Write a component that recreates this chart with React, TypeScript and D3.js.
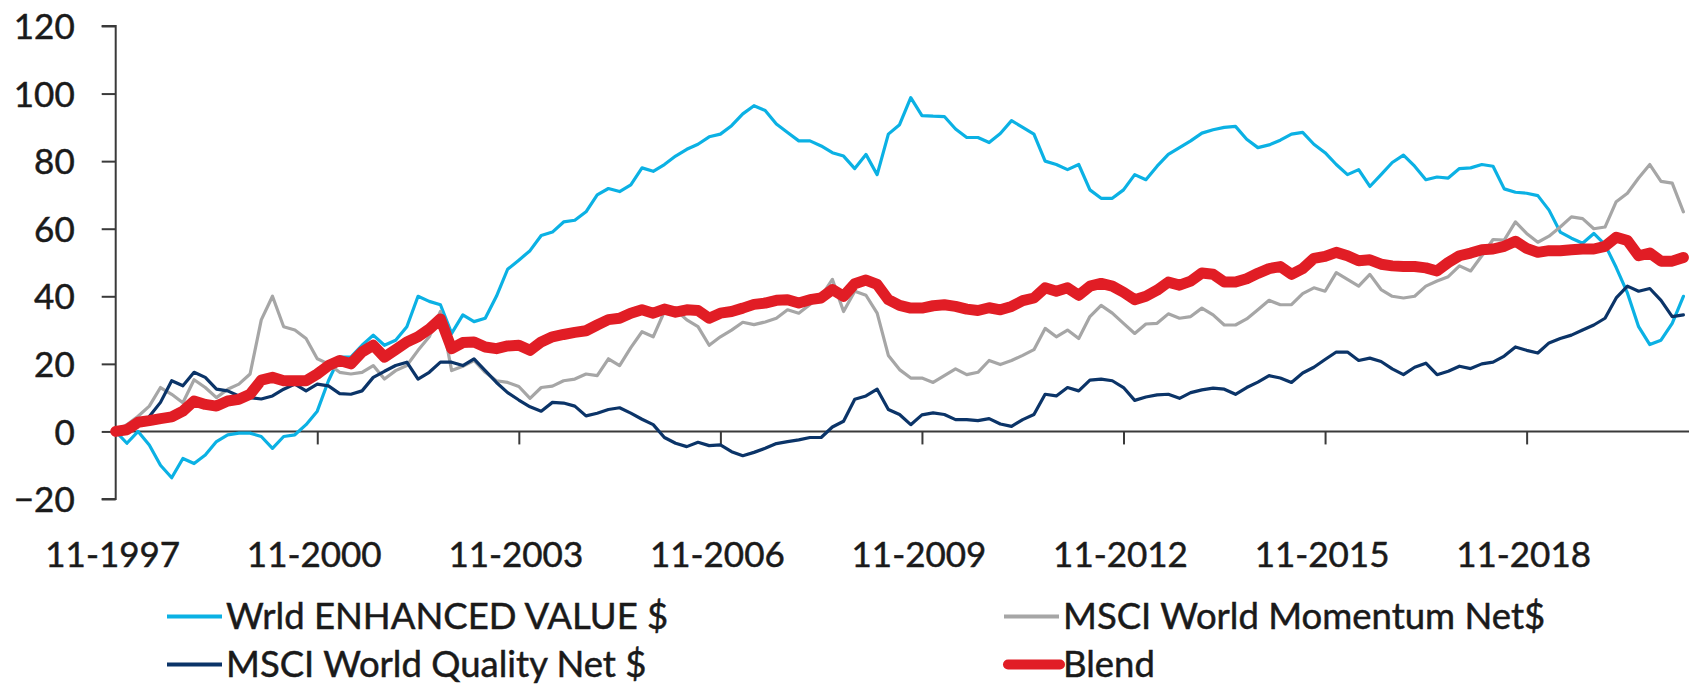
import React, { useRef, useEffect } from "react";
import * as d3 from "d3";

// readings every 2 months, starting 11-1997
const SAMPLE_STEP = 2;
const LAST_MONTH = 281;

const enhancedValue = [
  0, -3.5, 0, -4, -10, -13.7, -8, -9.5, -7, -3, -1, -0.5, -0.5, -1.5, -5, -1.5, -1, 2, 6, 15, 22, 22, 25.5, 28.5, 25.5, 27, 31, 40,
  38.5, 37.5, 29, 34.5, 32.5, 33.5, 40, 48, 50.7, 53.5, 58, 59, 62, 62.5, 65, 70, 71.9, 71, 73, 78, 77, 79, 81.5, 83.5, 85, 87.2, 88, 90.5,
  94, 96.4, 95, 91, 88.5, 86, 86, 84.5, 82.5, 81.5, 77.8, 82, 76, 88, 90.8, 98.8, 93.5, 93.3, 93.2, 89.5, 87, 87, 85.5, 88.2, 92, 90, 88, 80,
  79, 77.5, 79, 71.5, 69, 69, 71.5, 76, 74.5, 78.5, 82, 84, 86, 88.3, 89.3, 90, 90.3, 86.5, 84, 84.8, 86.2, 88, 88.5, 85, 82.5, 79, 76, 77.5,
  72.5, 76, 79.6, 81.8, 78.5, 74.5, 75.3, 75, 77.8, 78, 79, 78.5, 71.8, 70.8, 70.5, 69.8, 65.5, 59, 57.2, 55.7, 58.6, 55.3, 48.5, 41, 31, 25.7, 27, 32, 40,
];

const momentum = [
  0, 2, 4.5, 7.5, 13, 11, 8.5, 15.3, 13, 10, 12.5, 14, 17, 33, 40, 31, 30, 27.5, 21.5, 20, 17.5, 17, 17.5, 19.5, 15.5, 18, 19.5, 24,
  28, 35.5, 18, 19.3, 21, 17.5, 15, 14.5, 13.3, 9.8, 13, 13.4, 15, 15.5, 17, 16.5, 21.5, 19.5, 24.8, 29.5, 28, 35.5, 36, 33, 31, 25.5, 28, 30,
  32.3, 31.6, 32.4, 33.5, 36, 35, 37.6, 40, 45, 35.5, 41.5, 40.3, 35, 22.5, 18.3, 15.8, 15.8, 14.5, 16.5, 18.5, 16.8, 17.5, 21, 19.8, 21, 22.5, 24.2, 30.5,
  28, 30, 27.5, 34, 37.3, 35, 32, 29, 31.8, 32, 34.8, 33.5, 34, 36.5, 34.5, 31.5, 31.5, 33.3, 36, 38.8, 37.5, 37.5, 40.8, 42.5, 41.5, 47, 45, 43,
  46.5, 42, 40, 39.5, 40, 43, 44.5, 45.8, 49, 47.5, 52, 56.8, 56.6, 62, 58.6, 56, 57.8, 60.5, 63.5, 63, 60, 60.5, 68, 70.5, 75, 79, 74, 73.5, 65,
];

const quality = [
  0, 1, 2, 4.4, 8.6, 15, 13.5, 17.5, 16, 12.5, 12, 10.5, 10, 9.6, 10.5, 12.5, 14, 12, 14, 13.5, 11.2, 11, 12, 16, 17.8, 19.5, 20.5, 15.5,
  17.5, 20.5, 20.5, 19.5, 21.5, 18, 14.5, 11.5, 9.3, 7.3, 6, 8.6, 8.4, 7.5, 4.6, 5.4, 6.5, 7, 5.4, 3.6, 2, -1.8, -3.5, -4.5, -3.2, -4.2, -4, -6,
  -7.2, -6.2, -5, -3.6, -3, -2.5, -1.8, -1.8, 1.3, 3, 9.5, 10.5, 12.5, 6.5, 5, 2, 4.9, 5.5, 5, 3.5, 3.5, 3.2, 3.8, 2.2, 1.5, 3.5, 5, 11,
  10.5, 13, 12, 15.2, 15.5, 15, 13, 9.2, 10.2, 10.8, 11, 9.8, 11.5, 12.3, 12.8, 12.5, 11, 13, 14.6, 16.5, 15.8, 14.5, 17.3, 19, 21.3, 23.5, 23.5, 21,
  21.7, 20.7, 18.5, 16.8, 19, 20.2, 16.8, 17.8, 19.3, 18.6, 20, 20.5, 22.3, 25, 24, 23.2, 26.2, 27.5, 28.5, 30, 31.5, 33.5, 39.5, 43, 41.5, 42.3, 38.8, 34, 34.5,
];

const blend = [
  0, 0.5, 2.7, 3.2, 3.8, 4.3, 6, 9, 8, 7.5, 9, 9.5, 11, 15.2, 16, 15, 15, 15, 17, 19.5, 21, 20, 23.5, 25.5, 22, 24.2, 26.5, 28,
  30.3, 33.3, 24.5, 26.3, 26.5, 25, 24.5, 25.3, 25.5, 24, 26.5, 28, 28.7, 29.3, 29.8, 31.5, 33.1, 33.5, 35, 36, 35, 36.2, 35.3, 36, 35.8, 33.5, 35, 35.5,
  36.5, 37.6, 38, 38.8, 39, 38, 39, 39.5, 42, 40, 43.7, 44.8, 43.5, 39, 37.3, 36.5, 36.5, 37.2, 37.5, 37, 36.2, 35.8, 36.6, 36, 37, 38.7, 39.5, 42.5,
  41.5, 42.5, 40.3, 43, 43.8, 43, 41.2, 39, 40, 41.8, 44.2, 43.3, 44.5, 46.9, 46.5, 44.2, 44.2, 45.2, 46.8, 48.2, 48.8, 46.5, 48.2, 51.2, 51.8, 53, 52, 50.5,
  50.8, 49.5, 49, 48.8, 48.8, 48.4, 47.5, 50, 52, 52.8, 53.8, 54, 54.8, 56.3, 54.2, 53, 53.5, 53.5, 53.8, 54, 54, 54.8, 57.5, 56.5, 52, 52.8, 50.4, 50.4, 51.5,
];

const yTicks = [-20, 0, 20, 40, 60, 80, 100, 120];
const xTickMonths = [0, 36, 72, 108, 144, 180, 216, 252];
const xTickLabels = ["11-1997", "11-2000", "11-2003", "11-2006", "11-2009", "11-2012", "11-2015", "11-2018"];

const series = [
  { name: "Wrld ENHANCED VALUE $", values: enhancedValue, color: "#0BB1E4", width: 3.2 },
  { name: "MSCI World Momentum Net$", values: momentum, color: "#A6A6A6", width: 3.2 },
  { name: "MSCI World Quality Net $", values: quality, color: "#0B3468", width: 3.2 },
  { name: "Blend", values: blend, color: "#E11D25", width: 11 },
];

const FONT = "Lato, 'Open Sans', sans-serif";
const TEXT_COLOR = "#1a1a1a";

const App = () => {
  const chartRef = useRef<HTMLDivElement>(null);

  useEffect(() => {
    d3.select(chartRef.current).selectAll("*").remove();

    const width = 1690,
      height = 686;

    const svg = d3
      .select(chartRef.current)
      .append("svg")
      .attr("width", width)
      .attr("height", height)
      .style("display", "block");

    const x = d3.scaleLinear().domain([0, LAST_MONTH]).range([115.7, 1689]);
    const y = d3.scaleLinear().domain([-20, 120]).range([499, 26]);

    // slightly heavier glyphs, closer to the original's Calibri
    const styleText = (sel: any, size: number) =>
      sel
        .attr("font-family", FONT)
        .attr("font-size", size)
        .attr("fill", TEXT_COLOR)
        .attr("stroke", TEXT_COLOR)
        .attr("stroke-width", 0.5);

    // y axis
    const yAxis = svg.append("g").attr("transform", `translate(${x(0)},0)`);
    yAxis
      .call(d3.axisLeft(y).tickValues(yTicks).tickSize(14).tickPadding(27).tickFormat(d3.format("d")))
      .call((g) => g.select(".domain").attr("stroke", "#3a3a3a").attr("stroke-width", 2).attr("d", `M-14,${y(-20)}H0V${y(120)}H-14`))
      .call((g) => g.selectAll(".tick line").attr("stroke", "#3a3a3a").attr("stroke-width", 2));
    styleText(yAxis.selectAll(".tick text"), 35).attr("dy", "0.36em");

    // x axis sits on the zero line
    const xAxis = svg.append("g").attr("transform", `translate(0,${y(0)})`);
    xAxis
      .call(d3.axisBottom(x).tickValues(xTickMonths.slice(1)).tickSize(13).tickFormat(() => ""))
      .call((g) => g.select(".domain").attr("stroke", "#3a3a3a").attr("stroke-width", 2).attr("d", `M${x(0)},0H${x(LAST_MONTH)}`))
      .call((g) => g.selectAll(".tick line").attr("stroke", "#3a3a3a").attr("stroke-width", 2));

    styleText(
      svg
        .append("g")
        .selectAll("text")
        .data(xTickLabels)
        .enter()
        .append("text")
        .attr("x", (d, i) => x(xTickMonths[i]) - 3)
        .attr("y", 567)
        .attr("text-anchor", "middle")
        .text((d) => d),
      35
    );

    const line = d3
      .line<number>()
      .x((d, i) => x(i * SAMPLE_STEP))
      .y((d) => y(d))
      .curve(d3.curveLinear);

    svg
      .append("g")
      .selectAll("path")
      .data(series)
      .enter()
      .append("path")
      .attr("d", (s) => line(s.values))
      .attr("fill", "none")
      .attr("stroke", (s) => s.color)
      .attr("stroke-width", (s) => s.width)
      .attr("stroke-linejoin", "round")
      .attr("stroke-linecap", "round");

    // legend, two columns
    const legendCols = [167, 1004];
    const legendRows = [616.5, 664.5];
    const legend = svg
      .append("g")
      .selectAll("g")
      .data(series)
      .enter()
      .append("g")
      .attr("transform", (s, i) => `translate(${legendCols[i % 2]},${legendRows[Math.floor(i / 2)]})`);

    legend
      .append("line")
      .attr("x1", (s) => (s.width > 5 ? 4 : 0))
      .attr("x2", (s) => (s.width > 5 ? 56 : 55))
      .attr("stroke", (s) => s.color)
      .attr("stroke-width", (s) => (s.width > 5 ? 10 : 4))
      .attr("stroke-linecap", (s) => (s.width > 5 ? "round" : "butt"));

    styleText(
      legend
        .append("text")
        .attr("x", 59)
        .attr("y", 12)
        .text((s) => s.name),
      36.5
    );
  }, []);

  return <div ref={chartRef} style={{ position: "absolute", left: 0, top: 0 }}></div>;
};

export default App;
